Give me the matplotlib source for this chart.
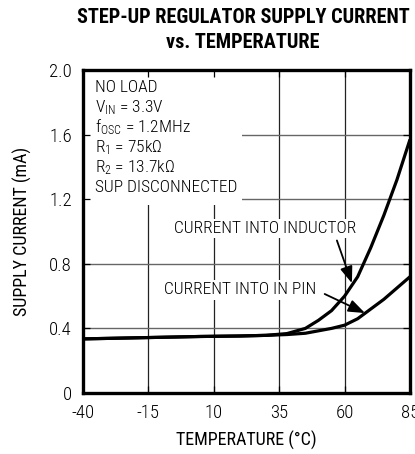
import matplotlib
matplotlib.use("Agg")
import matplotlib.pyplot as plt
from matplotlib.patches import Rectangle

plt.rcParams['font.family'] = ['Roboto Condensed', 'DejaVu Sans']
plt.rcParams['font.weight'] = 'light'
plt.rcParams['mathtext.fontset'] = 'custom'
plt.rcParams['mathtext.rm'] = 'Roboto Condensed:light'
plt.rcParams['mathtext.it'] = 'Roboto Condensed:light'
plt.rcParams['mathtext.default'] = 'regular'
plt.rcParams['axes.unicode_minus'] = False

# values
temp = [-40, -25, -10, 5, 20, 30, 38, 45, 50, 55, 60, 65, 70, 75, 80, 85]
inductor_ma = [0.335, 0.340, 0.345, 0.350, 0.353, 0.357, 0.368, 0.40, 0.45, 0.51,
               0.60, 0.72, 0.90, 1.10, 1.32, 1.57]
in_pin_ma = [0.335, 0.340, 0.345, 0.350, 0.353, 0.357, 0.362, 0.37, 0.385, 0.40,
             0.42, 0.46, 0.52, 0.58, 0.65, 0.72]
x_ticks = [-40, -15, 10, 35, 60, 85]
y_ticks = [0, 0.4, 0.8, 1.2, 1.6, 2.0]
y_tick_labels = ["0", "0.4", "0.8", "1.2", "1.6", "2.0"]
conditions = ["NO LOAD", "V$_{IN}$ = 3.3V", "f$_{OSC}$ = 1.2MHz",
              "R$_1$ = 75k$\\Omega$", "R$_2$ = 13.7k$\\Omega$", "SUP DISCONNECTED"]

fig = plt.figure(figsize=(4.15, 4.54), dpi=100)
ax = fig.add_axes([83 / 415, 61 / 454, 327 / 415, 323 / 454])

ax.set_xlim(-40, 85)
ax.set_ylim(0, 2.0)

# grid drawn by hand so the condition box can cover it
ax.vlines(x_ticks[1:-1], 0, 2.0, color="#222222", lw=0.9, zorder=0.8)
ax.hlines(y_ticks[1:-1], -40, 85, color="#666666", lw=1.0, zorder=0.8)
ax.add_patch(Rectangle((-39.5, 1.165), 60.3, 0.83, facecolor="white",
                       edgecolor="none", zorder=1))

ax.plot(temp, inductor_ma, color="black", lw=2.3, zorder=3,
        solid_capstyle="butt")
ax.plot(temp, in_pin_ma, color="black", lw=2.3, zorder=3,
        solid_capstyle="butt")

for i, line in enumerate(conditions):
    ax.text(-35.5, 1.893 - i * 0.124, line, fontsize=12.5, va="center",
            ha="left", zorder=4)

bbox = dict(facecolor="white", edgecolor="none", pad=1.5)
ax.annotate("CURRENT INTO INDUCTOR", xy=(62.8, 0.68), xytext=(29.6, 1.02),
            fontsize=12.5, ha="center", va="center", bbox=bbox, zorder=4,
            arrowprops=dict(arrowstyle="-|>,head_length=0.8,head_width=0.3",
                        color="black", lw=1.3, shrinkA=2, shrinkB=0,
                        relpos=(0.885, 0.0)))
ax.annotate("CURRENT INTO IN PIN", xy=(67.8, 0.495), xytext=(20.1, 0.638),
            fontsize=12.5, ha="center", va="center", bbox=bbox, zorder=4,
            arrowprops=dict(arrowstyle="-|>,head_length=0.8,head_width=0.3",
                        color="black", lw=1.3, shrinkA=3, shrinkB=0,
                        relpos=(1.03, 0.35)))

ax.set_xticks(x_ticks)
ax.set_yticks(y_ticks)
ax.set_yticklabels(y_tick_labels)
ax.tick_params(direction="in", length=5, width=0.9, labelsize=13.5, pad=8,
               top=True, right=True)
ax.set_axisbelow(False)
for s in ax.spines.values():
    s.set_linewidth(2.4)
    s.set_zorder(5)

ax.set_xlabel("TEMPERATURE (°C)", fontsize=13, labelpad=6)
ax.set_ylabel("SUPPLY CURRENT (mA)", fontsize=13, labelpad=12)

fig.text(243 / 415, 1 - 30 / 454, "STEP-UP REGULATOR SUPPLY CURRENT\nvs. TEMPERATURE",
         ha="center", va="center", fontsize=14.6, fontweight="bold",
         linespacing=1.35)

fig.savefig("out.png", dpi=100)
